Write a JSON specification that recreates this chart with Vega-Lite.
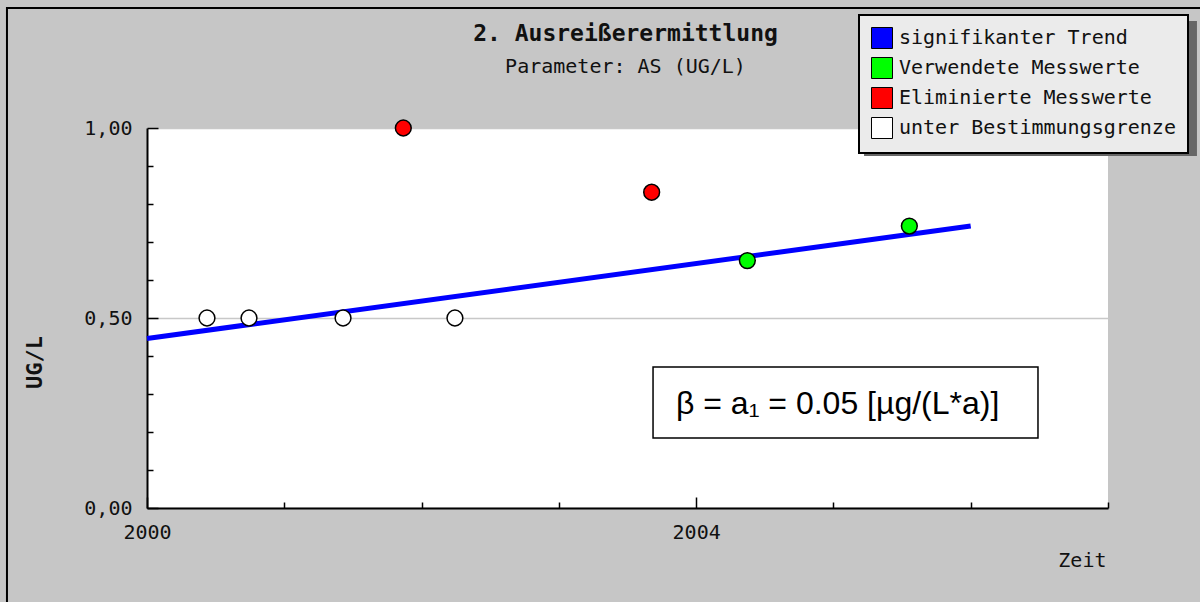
{
  "$schema": "https://vega.github.io/schema/vega-lite/v6.json",
  "width": 961,
  "height": 380,
  "autosize": {"type": "none"},
  "padding": {"left": 147, "top": 128, "right": 92, "bottom": 94},
  "background": "#c6c6c6",
  "title": {
    "text": "2. Ausreißerermittlung",
    "subtitle": "Parameter: AS (UG/L)",
    "anchor": "middle",
    "frame": "group",
    "offset": -70,
    "dx": -2,
    "font": "DejaVu Sans Mono",
    "fontSize": 23,
    "fontWeight": "bold",
    "color": "#111111",
    "subtitleFont": "DejaVu Sans Mono",
    "subtitleFontSize": 20,
    "subtitleFontWeight": "normal",
    "subtitleColor": "#111111",
    "subtitlePadding": 11
  },
  "datasets": {
    "messwerte": [
      {"jahr": 2000.437, "wert": 0.5, "typ": "unter Bestimmungsgrenze"},
      {"jahr": 2000.743, "wert": 0.5, "typ": "unter Bestimmungsgrenze"},
      {"jahr": 2001.428, "wert": 0.5, "typ": "unter Bestimmungsgrenze"},
      {"jahr": 2002.243, "wert": 0.5, "typ": "unter Bestimmungsgrenze"},
      {"jahr": 2001.867, "wert": 1.0, "typ": "Eliminierte Messwerte"},
      {"jahr": 2003.676, "wert": 0.831, "typ": "Eliminierte Messwerte"},
      {"jahr": 2004.373, "wert": 0.651, "typ": "Verwendete Messwerte"},
      {"jahr": 2005.553, "wert": 0.742, "typ": "Verwendete Messwerte"}
    ],
    "trend": [
      {"jahr": 2000.0, "wert": 0.446},
      {"jahr": 2006.0, "wert": 0.742}
    ],
    "einzeln": [{}]
  },
  "resolve": {"axis": {"x": "independent", "y": "independent"}},
  "layer": [
    {
      "description": "outer frame of the chart",
      "data": {"name": "einzeln"},
      "mark": {"type": "rect", "fill": null, "stroke": "#000000", "strokeWidth": 2, "clip": false},
      "encoding": {
        "x": {"datum": 1998.98, "type": "quantitative", "axis": null},
        "x2": {"datum": 2008.6},
        "y": {"datum": 1.3158, "type": "quantitative", "axis": null},
        "y2": {"datum": -0.6}
      }
    },
    {
      "description": "drop shadow behind the legend box",
      "data": {"name": "einzeln"},
      "mark": {"type": "rect", "fill": "#666666", "clip": false},
      "encoding": {
        "x": {"datum": 2005.223, "type": "quantitative", "axis": null},
        "x2": {"datum": 2007.648},
        "y": {"datum": 1.2816, "type": "quantitative", "axis": null},
        "y2": {"datum": 0.9263}
      }
    },
    {
      "description": "box around the slope annotation",
      "data": {"name": "einzeln"},
      "mark": {"type": "rect", "fill": "#ffffff", "stroke": "#000000", "strokeWidth": 1.5},
      "encoding": {
        "x": {"datum": 2003.686, "type": "quantitative", "axis": null},
        "x2": {"datum": 2006.49},
        "y": {"datum": 0.371, "type": "quantitative", "axis": null},
        "y2": {"datum": 0.184}
      }
    },
    {
      "description": "slope annotation",
      "data": {"name": "einzeln"},
      "mark": {"type": "text", "text": "β = a₁ = 0.05 [µg/(L*a)]", "font": "Liberation Sans", "fontSize": 32, "align": "left", "baseline": "alphabetic", "color": "#000000"},
      "encoding": {
        "x": {"datum": 2003.853, "type": "quantitative", "axis": null},
        "y": {"datum": 0.247, "type": "quantitative", "axis": null}
      }
    },
    {
      "description": "trend line; its axes carry the minor ticks",
      "data": {"name": "trend"},
      "mark": {"type": "line", "color": "#0000ff", "strokeWidth": 5, "clip": false},
      "encoding": {
        "x": {
          "field": "jahr",
          "type": "quantitative",
          "axis": {
            "orient": "bottom",
            "values": [2001, 2002, 2003, 2005, 2006, 2007],
            "labels": false,
            "domain": false,
            "grid": false,
            "title": null,
            "tickColor": "#000000",
            "tickWidth": 1.5,
            "tickSize": -6
          }
        },
        "y": {
          "field": "wert",
          "type": "quantitative",
          "axis": {
            "orient": "left",
            "values": [0.1, 0.2, 0.3, 0.4, 0.6, 0.7, 0.8, 0.9],
            "labels": false,
            "domain": false,
            "grid": false,
            "title": null,
            "tickColor": "#000000",
            "tickWidth": 1.5,
            "tickSize": -6
          }
        }
      }
    },
    {
      "data": {"name": "messwerte"},
      "mark": {"type": "point", "shape": "circle", "filled": true, "size": 250, "stroke": "#000000", "strokeWidth": 1.5, "opacity": 1, "clip": false},
      "encoding": {
        "x": {
          "field": "jahr",
          "type": "quantitative",
          "scale": {"domain": [2000, 2007], "nice": false, "zero": false},
          "axis": {
            "orient": "bottom",
            "values": [2000, 2004],
            "format": "d",
            "labelFlush": false,
            "labelOverlap": false,
            "labelBound": false,
            "grid": false,
            "domainColor": "#000000",
            "domainWidth": 2,
            "tickColor": "#000000",
            "tickWidth": 1.5,
            "tickSize": -11,
            "labelPadding": 25,
            "labelFont": "DejaVu Sans Mono",
            "labelFontSize": 20,
            "labelColor": "#111111",
            "title": "Zeit",
            "titleFont": "DejaVu Sans Mono",
            "titleFontSize": 20,
            "titleFontWeight": "normal",
            "titleColor": "#111111",
            "titleX": 959,
            "titleY": 52,
            "titleAlign": "right",
            "titleBaseline": "middle",
            "titleAnchor": null
          }
        },
        "y": {
          "field": "wert",
          "type": "quantitative",
          "scale": {"domain": [0, 1], "nice": false},
          "axis": {
            "orient": "left",
            "values": [0, 0.5, 1],
            "labelExpr": "replace(format(datum.value, '.2f'), '.', ',')",
            "labelOverlap": false,
            "labelBound": false,
            "labelFlush": false,
            "grid": true,
            "gridColor": "#c8c8c8",
            "gridWidth": 1.5,
            "domainColor": "#000000",
            "domainWidth": 2,
            "tickColor": "#000000",
            "tickWidth": 1.5,
            "tickSize": -11,
            "labelPadding": 26,
            "labelFont": "DejaVu Sans Mono",
            "labelFontSize": 20,
            "labelColor": "#111111",
            "title": "UG/L",
            "titleFont": "DejaVu Sans Mono",
            "titleFontSize": 22,
            "titleFontWeight": "bold",
            "titleColor": "#111111",
            "titleX": -113,
            "titleY": 234,
            "titleAngle": -90,
            "titleAlign": "center",
            "titleBaseline": "middle",
            "titleAnchor": null
          }
        },
        "color": {
          "field": "typ",
          "type": "nominal",
          "scale": {
            "domain": ["signifikanter Trend", "Verwendete Messwerte", "Eliminierte Messwerte", "unter Bestimmungsgrenze"],
            "range": ["#0000ff", "#00ff00", "#ff0000", "#ffffff"]
          },
          "legend": {
            "title": null,
            "orient": "none",
            "legendX": 712,
            "legendY": -113,
            "direction": "vertical",
            "fillColor": "#ebebeb",
            "strokeColor": "#000000",
            "padding": 12,
            "symbolType": "square",
            "symbolSize": 441,
            "symbolStrokeColor": "#000000",
            "symbolStrokeWidth": 1,
            "symbolOpacity": 1,
            "labelFont": "DejaVu Sans Mono",
            "labelFontSize": 20,
            "labelColor": "#111111",
            "labelOffset": 6,
            "rowPadding": 4,
            "labelLimit": 400,
            "encode": {"legend": {"update": {"strokeWidth": {"value": 2}}}}
          }
        }
      }
    }
  ],
  "config": {
    "view": {"fill": "#ffffff", "stroke": null},
    "axis": {"labelFontWeight": "normal"}
  }
}
